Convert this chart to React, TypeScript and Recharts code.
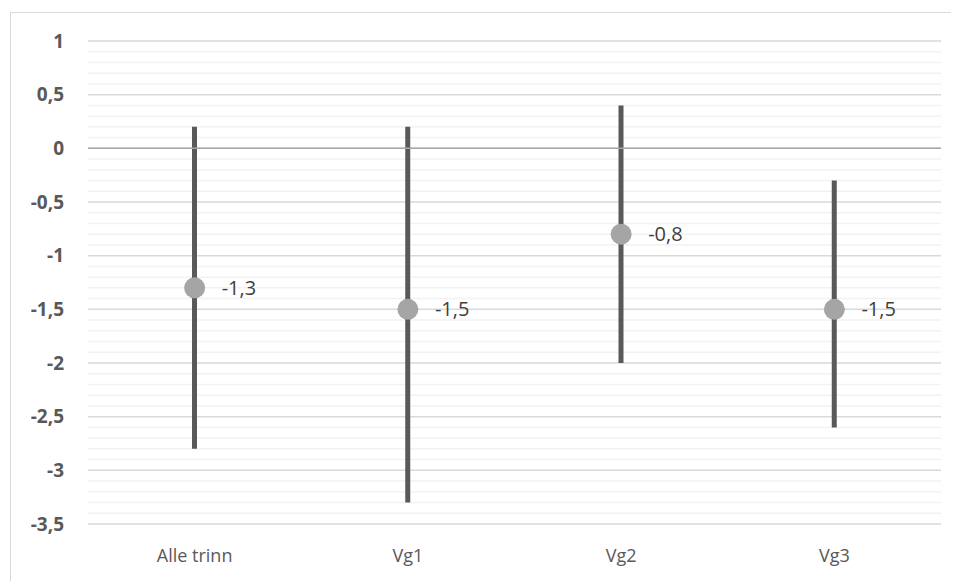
import React from 'react';
import { ComposedChart, Bar, Line, XAxis, YAxis, CartesianGrid, ReferenceLine, LabelList } from 'recharts';

const categories = ['Alle trinn', 'Vg1', 'Vg2', 'Vg3'];
const means = [-1.3, -1.5, -0.8, -1.5];
const upper = [0.2, 0.2, 0.4, -0.3];
const lower = [-2.8, -3.3, -2.0, -2.6];
const yTicks = [-3.5, -3, -2.5, -2, -1.5, -1, -0.5, 0, 0.5, 1];
const minorTicks = [
  0.9, 0.8, 0.7, 0.6, 0.4, 0.3, 0.2, 0.1,
  -0.1, -0.2, -0.3, -0.4, -0.6, -0.7, -0.8, -0.9,
  -1.1, -1.2, -1.3, -1.4, -1.6, -1.7, -1.8, -1.9,
  -2.1, -2.2, -2.3, -2.4, -2.6, -2.7, -2.8, -2.9,
  -3.1, -3.2, -3.3, -3.4,
];

const data = categories.map((c, i) => ({
  name: c,
  mean: means[i],
  range: [lower[i], upper[i]],
}));

const fmt = (v: number) => String(v).replace('.', ',');
const FONT = '"Open Sans", "Noto Sans", sans-serif';

const PointLabel = (props: any) => {
  const { x, y, value } = props;
  return (
    <text x={x + 27} y={y + 7} fill="#404040" fontSize={20} fontFamily={FONT}>
      {fmt(value)}
    </text>
  );
};

export default function App() {
  return (
    <div style={{ paddingLeft: 2, paddingTop: 4 }}>
      <div style={{ width: 960, height: 600, borderTop: '1px solid #d9d9d9', borderLeft: '1px solid #d9d9d9', boxSizing: 'border-box' }}>
        <ComposedChart
          width={940}
          height={570}
          data={data}
          margin={{ top: 28, right: 10, bottom: 19, left: 0 }}
        >
          <CartesianGrid vertical={false} horizontalValues={minorTicks} stroke="#f2f2f2" strokeWidth={1.5} />
          <CartesianGrid vertical={false} horizontalValues={yTicks} stroke="#d9d9d9" strokeWidth={1.5} />
          <XAxis
            dataKey="name"
            axisLine={false}
            tickLine={false}
            height={40}
            tick={{ fill: '#595959', fontSize: 18, fontFamily: FONT }}
            tickMargin={19}
          />
          <YAxis
            type="number"
            domain={[-3.5, 1]}
            ticks={yTicks}
            interval={0}
            width={77}
            axisLine={false}
            tickLine={false}
            tickMargin={18}
            tickFormatter={fmt}
            tick={{ fill: '#595959', fontSize: 19, fontWeight: 700, fontFamily: FONT }}
          />
          <ReferenceLine y={0} stroke="#a6a6a6" strokeWidth={1.5} />
          <Bar dataKey="range" barSize={5} fill="#595959" isAnimationActive={false} />
          <Line
            dataKey="mean"
            stroke="none"
            dot={{ r: 10.5, fill: '#a5a5a5', stroke: 'none' }}
            activeDot={false}
            isAnimationActive={false}
          >
            <LabelList dataKey="mean" content={<PointLabel />} />
          </Line>
        </ComposedChart>
      </div>
    </div>
  );
}
